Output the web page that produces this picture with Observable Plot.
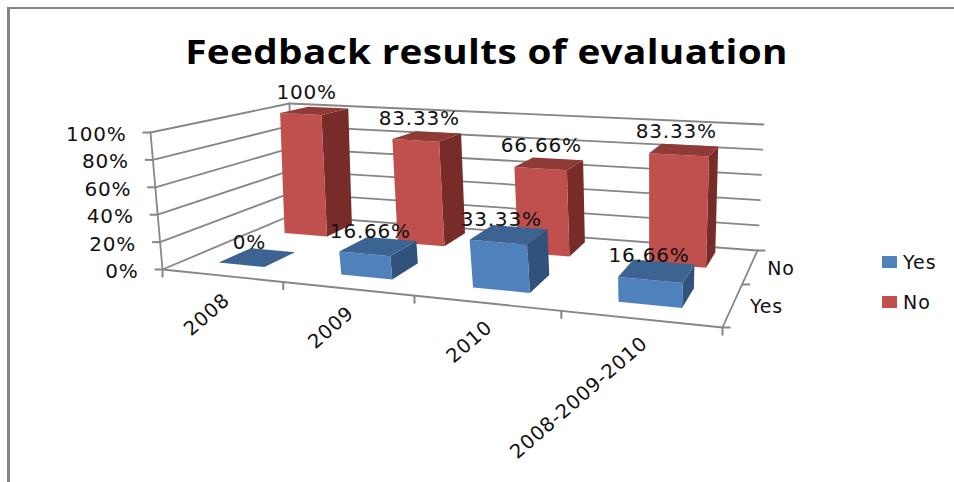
<!DOCTYPE html>
<html><head><meta charset="utf-8">
<script src="https://cdn.jsdelivr.net/npm/d3@7"></script>
<script src="https://cdn.jsdelivr.net/npm/@observablehq/plot@0.6"></script>
<style>
html,body{margin:0;padding:0;background:#fff}
#frame{position:absolute;left:7px;top:7px;width:947px;height:475px;border-left:3px solid #868686;border-top:2px solid #868686;box-sizing:border-box;pointer-events:none}
#title{height:75px;width:954px;box-sizing:border-box;padding-left:19px;text-align:center;font:bold 33.5px "Open Sans",sans-serif;line-height:102px;color:#000;letter-spacing:.3px;transform:scaleX(1.155);transform-origin:486.5px 50%}
#chart svg{display:block}
#legend{position:absolute;left:882px;top:247px;font:19px "DejaVu Sans",sans-serif;letter-spacing:1px;color:#111}
#legend div{height:40px;line-height:30px;display:flex;align-items:flex-start}
#legend i{display:inline-block;width:15px;height:12px;margin:9px 6px 0 0}
</style></head><body>
<div id="frame"></div>
<div id="title">Feedback results of evaluation</div>
<div id="chart"></div>
<div id="legend"></div>
<script>
const categories = ["2008", "2009", "2010", "2008-2009-2010"];
const seriesNames = ["Yes", "No"];
const yesValues = [0, 16.66, 33.33, 16.66];
const noValues = [100, 83.33, 66.66, 83.33];
const valueTicks = [0, 20, 40, 60, 80, 100];
const colors = {Yes: {front: "#4f81bd", side: "#31527a", top: "#3c6391"},
                No: {front: "#c0504d", side: "#772c2a", top: "#8f3a37"}};

// Perspective of the 3-D box: floor and ceiling quads, in page pixels
const floorQuad = [[162, 269], [722, 327], [757, 250], [290, 215]];
const ceilQuad = [[150, 132], [730, 170], [763, 124], [289, 103]];
function homography(q) {
  const [[x0, y0], [x1, y1], [x2, y2], [x3, y3]] = q;
  const dx1 = x1 - x2, dx2 = x3 - x2, sx = x0 - x1 + x2 - x3;
  const dy1 = y1 - y2, dy2 = y3 - y2, sy = y0 - y1 + y2 - y3;
  const den = dx1 * dy2 - dx2 * dy1;
  const g = (sx * dy2 - dx2 * sy) / den, h = (dx1 * sy - sx * dy1) / den;
  const a = x1 - x0 + g * x1, b = x3 - x0 + h * x3;
  const d = y1 - y0 + g * y1, e = y3 - y0 + h * y3;
  return (u, w) => {
    const k = g * u + h * w + 1;
    return [(a * u + b * w + x0) / k, (d * u + e * w + y0) / k];
  };
}
const floorAt = homography(floorQuad), ceilAt = homography(ceilQuad);
// u: category position, w: series depth (0 front, 1 back), v: percent
function project(u, w, v) {
  const f = floorAt(u, w), c = ceilAt(u, w), t = v / 100;
  return {x: f[0] + (c[0] - f[0]) * t, y: f[1] + (c[1] - f[1]) * t};
}
const n = categories.length;
const barStart = [0.29, 0.325, 0.325, 0.315];
const barU = i => [(i + barStart[i]) / n, (i + barStart[i] + 0.40) / n];
const barW = {Yes: [0.16, 0.40], No: [0.68, 0.92]};

function poly(id, fill, pts) {
  return pts.map(([u, w, v]) => ({id, fill, ...project(u, w, v)}));
}
function barFaces(name, values) {
  const c = colors[name], [w0, w1] = barW[name];
  return values.flatMap((v, i) => {
    const [u0, u1] = barU(i);
    const top = poly(`${name}${i}t`, c.top, [[u0, w0, v], [u1, w0, v], [u1, w1, v], [u0, w1, v]]);
    if (v === 0) return top;
    return [
      ...poly(`${name}${i}s`, c.side, [[u1, w0, 0], [u1, w1, 0], [u1, w1, v], [u1, w0, v]]),
      ...poly(`${name}${i}f`, c.front, [[u0, w0, 0], [u1, w0, 0], [u1, w0, v], [u0, w0, v]]),
      ...top
    ];
  });
}
// Lines of the box
const boxLines = [];
const seg = (id, a, b) => boxLines.push({id, ...project(...a)}, {id, ...project(...b)});
valueTicks.forEach(v => {
  seg(`left${v}`, [0, 0, v], [0, 1, v]);
  seg(`back${v}`, [0, 1, v], [1, 1, v]);
});
seg("axisV", [0, 0, 0], [0, 0, 100]);
seg("backV", [0, 1, 0], [0, 1, 100]);
seg("front", [0, 0, 0], [1, 0, 0]);
seg("right", [1, 0, 0], [1, 1, 0]);

const tickLen = 8;
const valueTickPts = valueTicks.map(v => ({v, ...project(0, 0, v)}));
const catTickU = [0, 0.256, 0.506, 0.756, 1];
const catTickPts = catTickU.map(u => project(u, 0, 0));
const depthTickPts = [0, 0.5, 1].map(w => project(1, w, 0));

const catLabels = categories.map((c, i) => ({c, ...project((i + 0.5) / n, 0, 0)}));
const depthLabels = seriesNames.map((s, j) => ({s, ...project(1, j ? 0.75 : 0.25, 0)}));
const labelsOf = (name, values) => values.map((v, i) => {
  const [u0, u1] = barU(i), [w0, w1] = barW[name];
  return {t: v + "%", ...project((u0 + u1) / 2, (w0 + w1) / 2, v)};
});

const gridStroke = "#868686";
const valueFont = {fontSize: 20, fontFamily: "DejaVu Sans", fill: "#111"};
const svg = Plot.plot({
  width: 954, height: 407,
  margin: 0,
  x: {domain: [0, 954], range: [0, 954], axis: null},
  y: {domain: [75, 482], range: [0, 407], axis: null},
  color: {type: "identity"},
  style: {background: "transparent", overflow: "visible"},
  marks: [
    Plot.line(boxLines, {x: "x", y: "y", z: "id", stroke: gridStroke, strokeWidth: 1.8}),
    Plot.link(valueTickPts, {x1: d => d.x - tickLen, x2: "x", y1: "y", y2: "y", stroke: gridStroke, strokeWidth: 2}),
    Plot.link(catTickPts, {x1: "x", x2: "x", y1: "y", y2: d => d.y + tickLen, stroke: gridStroke, strokeWidth: 2}),
    Plot.link(depthTickPts, {x1: "x", x2: d => d.x + tickLen, y1: "y", y2: "y", stroke: gridStroke, strokeWidth: 2}),
    Plot.line(barFaces("No", noValues), {x: "x", y: "y", z: "id", fill: "fill", stroke: null, curve: "linear-closed"}),
    Plot.line(barFaces("Yes", yesValues), {x: "x", y: "y", z: "id", fill: "fill", stroke: null, curve: "linear-closed"}),
    Plot.text(valueTickPts, {x: "x", y: "y", text: d => d.v + "%", dx: -24, dy: 2, textAnchor: "end", ...valueFont}),
    Plot.text(catLabels, {x: "x", y: "y", text: "c", dx: 7, dy: 22, rotate: -41, textAnchor: "end", lineAnchor: "middle", fontSize: 19.5, fontFamily: "DejaVu Sans", fill: "#111"}),
    Plot.text(depthLabels, {x: "x", y: "y", text: "s", dx: 17, dy: 2, textAnchor: "start", fontSize: 19, fontFamily: "DejaVu Sans", fill: "#111"}),
    Plot.text(labelsOf("No", noValues), {x: "x", y: "y", text: "t", dx: -8, dy: -18, ...valueFont}),
    Plot.text(labelsOf("Yes", yesValues), {x: "x", y: "y", text: "t", dx: -8, dy: -15, ...valueFont})
  ]
});
svg.style.letterSpacing = "0.8px";
document.getElementById("chart").append(svg);
document.getElementById("legend").innerHTML = seriesNames.map(s =>
  `<div><i style="background:${colors[s].front}"></i><span>${s}</span></div>`).join("");
</script>
</body></html>
